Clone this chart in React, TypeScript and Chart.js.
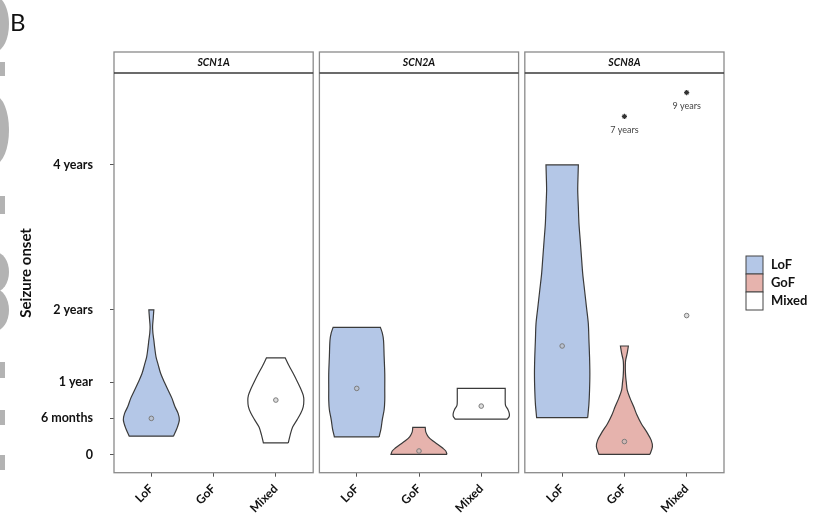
import React, { useEffect, useRef } from "react";
import { Chart, registerables } from "chart.js";

Chart.register(...registerables);

const FONT = "Lato, 'Open Sans', sans-serif";

const genes = ["SCN1A", "SCN2A", "SCN8A"];
const groups = ["LoF", "GoF", "Mixed"];
const groupColors = ["#b4c7e7", "#e6b3ad", "#ffffff"];

const yTickValues = [0, 0.5, 1, 2, 4];
const yTickLabels = ["0", "6 months", "1 year", "2 years", "4 years"];

// Violin profiles: seizure onset levels (years) and half-widths (category units)
const scn1aLoFLevels = [0.255, 0.36, 0.48, 0.57, 0.66, 0.78, 0.89, 1.0, 1.12, 1.24, 1.35, 1.47, 1.58, 1.68, 1.77, 1.88, 2.0];
const scn1aLoFWidths = [0.355, 0.41, 0.45, 0.43, 0.38, 0.33, 0.27, 0.21, 0.15, 0.11, 0.075, 0.055, 0.04, 0.025, 0.02, 0.03, 0.04];

const scn1aMixedLevels = [0.163, 0.27, 0.38, 0.48, 0.57, 0.66, 0.75, 0.82, 0.89, 1.0, 1.12, 1.23, 1.337];
const scn1aMixedWidths = [0.2, 0.23, 0.27, 0.34, 0.4, 0.44, 0.45, 0.44, 0.41, 0.35, 0.28, 0.21, 0.15];

const scn2aLoFLevels = [0.246, 0.36, 0.48, 0.62, 0.75, 0.9, 1.12, 1.35, 1.58, 1.68, 1.757];
const scn2aLoFWidths = [0.36, 0.39, 0.41, 0.44, 0.45, 0.45, 0.45, 0.44, 0.43, 0.41, 0.38];

const scn2aGoFLevels = [0.003, 0.05, 0.09, 0.13, 0.19, 0.246, 0.31, 0.375];
const scn2aGoFWidths = [0.45, 0.43, 0.38, 0.32, 0.22, 0.15, 0.11, 0.1];

const scn2aMixedLevels = [0.49, 0.53, 0.57, 0.62, 0.68, 0.75, 0.83, 0.914];
const scn2aMixedWidths = [0.42, 0.45, 0.45, 0.43, 0.39, 0.385, 0.385, 0.385];

const scn8aLoFLevels = [0.51, 0.7, 0.89, 1.12, 1.35, 1.58, 1.81, 2.04, 2.27, 2.5, 2.73, 2.96, 3.19, 3.42, 3.65, 3.85, 4.0];
const scn8aLoFWidths = [0.41, 0.43, 0.44, 0.445, 0.44, 0.43, 0.42, 0.39, 0.36, 0.33, 0.31, 0.29, 0.27, 0.26, 0.25, 0.255, 0.26];

const scn8aGoFLevels = [0.003, 0.108, 0.2, 0.31, 0.43, 0.55, 0.66, 0.78, 0.89, 1.0, 1.08, 1.17, 1.24, 1.305, 1.4, 1.5];
const scn8aGoFWidths = [0.41, 0.45, 0.43, 0.36, 0.27, 0.2, 0.15, 0.09, 0.045, 0.03, 0.02, 0.015, 0.015, 0.02, 0.045, 0.064];

const violinGene = [0, 0, 1, 1, 1, 2, 2];
const violinGroup = [0, 2, 0, 1, 2, 0, 1];
const violinLevels = [scn1aLoFLevels, scn1aMixedLevels, scn2aLoFLevels, scn2aGoFLevels, scn2aMixedLevels, scn8aLoFLevels, scn8aGoFLevels];
const violinWidths = [scn1aLoFWidths, scn1aMixedWidths, scn2aLoFWidths, scn2aGoFWidths, scn2aMixedWidths, scn8aLoFWidths, scn8aGoFWidths];

// Median points (years)
const medianGene = [0, 0, 1, 1, 1, 2, 2, 2];
const medianGroup = [0, 2, 0, 1, 2, 0, 1, 2];
const medianValues = [0.5, 0.753, 0.914, 0.05, 0.67, 1.5, 0.18, 1.92];

// Off-scale outliers (shown as asterisks near the top of the panel)
const outlierGene = [2, 2];
const outlierGroup = [1, 2];
const outlierYears = [7, 9];
const outlierMarkerY = [4.67, 5.0];
const outlierLabels = outlierYears.map((v) => `${v} years`);

const PANEL_W = 3.2;
const PANEL_STEP = 3.3;
const xPos = (g: number, k: number) => g * PANEL_STEP + 0.6 + k;

function violinPoints(g: number, k: number, levels: number[], widths: number[]) {
  const c = xPos(g, k);
  const n = levels.length;
  const pts: { x: number; y: number }[] = [];
  for (let i = 0; i < n; i++) pts.push({ x: c + widths[i], y: levels[i] });
  pts.push({ x: c + widths[n - 1], y: levels[n - 1] });
  pts.push({ x: c - widths[n - 1], y: levels[n - 1] });
  for (let i = n - 1; i >= 0; i--) pts.push({ x: c - widths[i], y: levels[i] });
  pts.push({ x: c - widths[0], y: levels[0] });
  pts.push({ x: c + widths[0], y: levels[0] });
  return pts;
}

const facetPlugin = {
  id: "facets",
  beforeDraw(chart: any) {
    // fragments of the neighbouring figure panel, cropped at the left edge
    const { ctx } = chart;
    ctx.save();
    ctx.fillStyle = "#b3b3b3";
    const blobs = [
      [-4, 24, 13, 27],
      [-5, 130, 14, 34],
      [-5, 272, 14, 20],
      [-5, 310, 14, 21],
    ];
    blobs.forEach(([cx, cy, rx, ry]) => {
      ctx.beginPath();
      ctx.ellipse(cx, cy, rx, ry, 0, 0, Math.PI * 2);
      ctx.fill();
    });
    const dashes = [
      [62, 14],
      [196, 18],
      [362, 16],
      [410, 15],
      [455, 15],
    ];
    dashes.forEach(([y, h]) => ctx.fillRect(0, y, 5, h));
    ctx.restore();
  },
  afterDraw(chart: any) {
    const { ctx, chartArea, scales } = chart;
    const xs = scales.x;
    const ys = scales.y;
    const top = chartArea.top;
    const bottom = chartArea.bottom;
    const stripH = 21;
    ctx.save();
    genes.forEach((gene, g) => {
      const l = xs.getPixelForValue(g * PANEL_STEP);
      const r = xs.getPixelForValue(g * PANEL_STEP + PANEL_W);
      ctx.strokeStyle = "#8a8a8a";
      ctx.lineWidth = 1.3;
      ctx.strokeRect(l, top - stripH, r - l, bottom - top + stripH);
      ctx.strokeStyle = "#3a3a3a";
      ctx.lineWidth = 1.4;
      ctx.beginPath();
      ctx.moveTo(l, top);
      ctx.lineTo(r, top);
      ctx.stroke();
      ctx.fillStyle = "#111";
      ctx.font = `italic bold 10.5px ${FONT}`;
      ctx.textAlign = "center";
      ctx.textBaseline = "middle";
      ctx.fillText(gene, (l + r) / 2, top - stripH / 2);
    });
    // outlier annotations
    ctx.fillStyle = "#444";
    ctx.font = `9px ${FONT}`;
    ctx.textAlign = "center";
    ctx.textBaseline = "middle";
    outlierLabels.forEach((lab, i) => {
      const px = xs.getPixelForValue(xPos(outlierGene[i], outlierGroup[i]));
      const py = ys.getPixelForValue(outlierMarkerY[i]);
      ctx.fillText(lab, px, py + 14);
    });
    // legend
    const lx = 746;
    const ly = 256;
    const bw = 17;
    const bh = 18;
    groups.forEach((grp, i) => {
      ctx.fillStyle = groupColors[i];
      ctx.fillRect(lx, ly + i * bh, bw, bh);
      ctx.strokeStyle = "#444";
      ctx.lineWidth = 1;
      ctx.strokeRect(lx, ly + i * bh, bw, bh);
      ctx.fillStyle = "#111";
      ctx.font = `bold 13px ${FONT}`;
      ctx.textAlign = "left";
      ctx.textBaseline = "middle";
      ctx.fillText(grp, lx + bw + 8, ly + i * bh + bh / 2);
    });
    // panel letter
    ctx.fillStyle = "#111";
    ctx.font = `24px ${FONT}`;
    ctx.textAlign = "left";
    ctx.textBaseline = "alphabetic";
    ctx.fillText("B", 10, 31);
    ctx.restore();
  },
};

export default function App() {
  const ref = useRef<HTMLCanvasElement | null>(null);
  useEffect(() => {
    if (!ref.current) return;
    const violinSets = violinGene.map((g, i) => ({
      label: `${genes[g]} ${groups[violinGroup[i]]}`,
      data: violinPoints(g, violinGroup[i], violinLevels[i], violinWidths[i]),
      borderColor: "#3a3a3a",
      borderWidth: 1.2,
      backgroundColor: groupColors[violinGroup[i]],
      fill: "shape",
      tension: 0.3,
      pointRadius: 0,
      order: 2,
    }));
    const medianSet = {
      label: "median",
      data: medianValues.map((v, i) => ({ x: xPos(medianGene[i], medianGroup[i]), y: v })),
      showLine: false,
      pointRadius: 2.3,
      pointBorderWidth: 1,
      pointBorderColor: "#7c7c7c",
      pointBackgroundColor: "rgba(190,190,190,0.5)",
      order: 0,
    };
    const outlierSet = {
      label: "outliers",
      data: outlierMarkerY.map((v, i) => ({ x: xPos(outlierGene[i], outlierGroup[i]), y: v })),
      showLine: false,
      pointStyle: "star",
      pointRadius: 2.6,
      pointBorderWidth: 1.2,
      pointBorderColor: "#333",
      order: 0,
    };
    const catPositions: number[] = [];
    genes.forEach((_, g) => groups.forEach((__, k) => catPositions.push(xPos(g, k))));

    const chart = new Chart(ref.current, {
      type: "line",
      data: { datasets: [medianSet, outlierSet, ...violinSets] as any },
      options: {
        animation: false,
        responsive: false,
        layout: { padding: { left: 0, right: 93, top: 73, bottom: 0 } },
        plugins: { legend: { display: false }, tooltip: { enabled: false } },
        scales: {
          x: {
            type: "linear",
            min: 0,
            max: 3 * PANEL_W + 2 * (PANEL_STEP - PANEL_W),
            afterBuildTicks: (s: any) => {
              s.ticks = catPositions.map((v) => ({ value: v }));
            },
            afterFit: (s: any) => {
              s.height = 56.3;
            },
            ticks: {
              autoSkip: false,
              minRotation: 45,
              maxRotation: 45,
              padding: 5,
              color: "#111",
              font: { family: FONT, weight: "bold", size: 12 },
              callback: (_v: any, i: number) => groups[i % 3],
            },
            grid: { drawOnChartArea: false, drawTicks: true, tickLength: 4, color: "#555" },
            border: { display: false },
          },
          y: {
            type: "linear",
            min: -0.25,
            max: 5.27,
            afterBuildTicks: (s: any) => {
              s.ticks = yTickValues.map((v) => ({ value: v }));
            },
            afterFit: (s: any) => {
              s.width = 114;
            },
            ticks: {
              autoSkip: false,
              padding: 17,
              color: "#111",
              font: { family: FONT, weight: "bold", size: 12.5 },
              callback: (_v: any, i: number) => yTickLabels[i],
            },
            grid: { drawOnChartArea: false, drawTicks: true, tickLength: 4, color: "#555" },
            border: { display: false },
            title: {
              display: true,
              text: "Seizure onset",
              color: "#111",
              font: { family: FONT, weight: "bold", size: 15 },
              padding: { top: 17, bottom: 0 },
            },
          },
        },
      },
      plugins: [facetPlugin],
    } as any);
    return () => chart.destroy();
  }, []);
  return (
    <div style={{ position: "absolute", left: 0, top: 0, width: 817, height: 529, background: "#fff" }}>
      <canvas ref={ref} width={817} height={529} />
    </div>
  );
}
